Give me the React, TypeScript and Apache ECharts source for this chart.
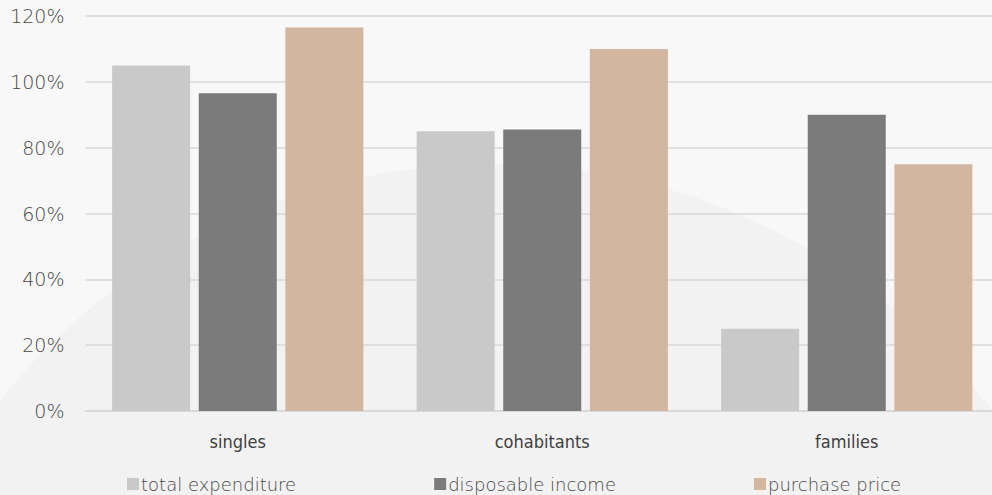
import React, { useEffect, useRef } from "react";
import * as echarts from "echarts";

const categories = ["singles", "cohabitants", "families"];
const seriesNames = ["total expenditure", "disposable income", "purchase price"];
const totalExpenditure = [105, 85, 25];
const disposableIncome = [96.5, 85.5, 90];
const purchasePrice = [116.5, 110, 75];
const yTicks = [0, 20, 40, 60, 80, 100, 120];
const colors = ["#c9c9c9", "#7b7b7b", "#d3b69f"];

export default function App() {
  const ref = useRef<HTMLDivElement>(null);
  useEffect(() => {
    document.body.style.overflow = "hidden";
    const chart = echarts.init(ref.current!, null, { renderer: "svg" });
    const values = [totalExpenditure, disposableIncome, purchasePrice];
    chart.setOption({
      animation: false,
      backgroundColor: "#f8f8f8",
      graphic: [
        {
          type: "circle",
          z: -10,
          silent: true,
          shape: { cx: 492, cy: 795, r: 631 },
          style: { fill: "#f2f2f2" },
        },
      ],
      grid: { left: 85.5, right: 0, top: 16, bottom: 84 },
      legend: {
        bottom: 0,
        left: 122,
        padding: [0, 5, 2, 5],
        itemWidth: 12,
        itemHeight: 12,
        itemGap: 138,
        icon: "rect",
        textStyle: {
          fontFamily: "DejaVu Sans",
          fontWeight: 200,
          fontSize: 18,
          color: "#474747",
          padding: [0, 0, 0, -3],
        },
        data: seriesNames,
      },
      xAxis: {
        type: "category",
        data: categories,
        axisLine: { lineStyle: { color: "#d9d9d9", width: 2 } },
        axisTick: { show: false },
        axisLabel: {
          margin: 21,
          fontFamily: "DejaVu Sans Condensed",
          fontSize: 18,
          color: "#404040",
        },
      },
      yAxis: {
        type: "value",
        min: 0,
        max: yTicks[yTicks.length - 1],
        interval: 20,
        axisLine: { show: false },
        axisTick: { show: false },
        splitLine: { lineStyle: { color: "#d9d9d9", width: 1.5 } },
        axisLabel: {
          margin: 21,
          fontFamily: "DejaVu Sans",
          fontWeight: 200,
          fontSize: 19,
          color: "#474747",
          formatter: (v: number) => v + "%",
        },
      },
      series: seriesNames.map((name, i) => ({
        name,
        type: "bar",
        data: values[i],
        barGap: "11%",
        barCategoryGap: "17.5%",
        itemStyle: { color: colors[i] },
      })),
    });
    return () => chart.dispose();
  }, []);
  return (
    <div
      ref={ref}
      style={{ position: "fixed", left: 0, top: 0, width: 999, height: 495 }}
    />
  );
}
